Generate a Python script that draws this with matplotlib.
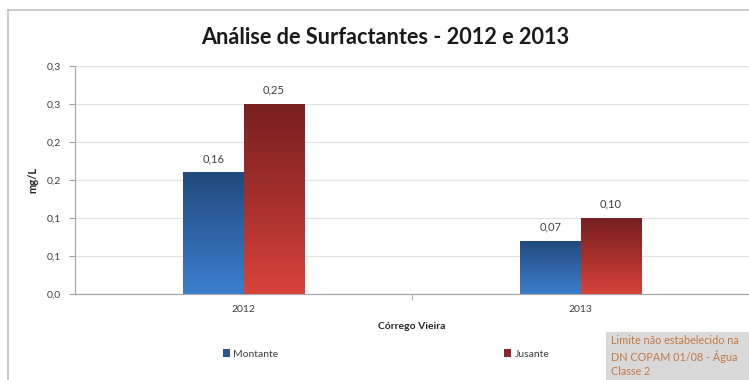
import numpy as np
import matplotlib
matplotlib.use("Agg")
import matplotlib.pyplot as plt
from matplotlib.colors import LinearSegmentedColormap
from matplotlib.lines import Line2D
from matplotlib.patches import Patch, Rectangle

plt.rcParams['font.family'] = ['Lato', 'DejaVu Sans']

# Data
years = ["2012", "2013"]
series_names = ["Montante", "Jusante"]
montante = [0.16, 0.07]
jusante = [0.25, 0.10]
value_labels_montante = ["0,16", "0,07"]
value_labels_jusante = ["0,25", "0,10"]
y_ticks = [0.0, 0.05, 0.10, 0.15, 0.20, 0.25, 0.30]
y_tick_labels = ["0,0", "0,1", "0,1", "0,2", "0,2", "0,3", "0,3"]

title = "Análise de Surfactantes - 2012 e 2013"
x_title = "Córrego Vieira"
y_title = "mg/L"
note = "Limite não estabelecido na\nDN COPAM 01/08 - Água\nClasse 2"

# Gradient colours (top -> bottom)
blue_grad = LinearSegmentedColormap.from_list("blue_grad", ["#214a7c", "#2f64a6", "#3c7fcb"])
red_grad = LinearSegmentedColormap.from_list("red_grad", ["#772020", "#a52f2c", "#d8433c"])

fig = plt.figure(figsize=(7.49, 3.80), dpi=100)
ax = fig.add_axes([75 / 749, 1 - 294 / 380, 1 - 75 / 749, (294 - 66) / 380])

x = np.arange(len(years))
w = 0.18
bars_m = ax.bar(x - w / 2, montante, width=w, color="#2f64a6", linewidth=0, zorder=2)
bars_j = ax.bar(x + w / 2, jusante, width=w, color="#a52f2c", linewidth=0, zorder=2)

grad = np.linspace(0, 1, 256).reshape(-1, 1)
for bars, cmap in ((bars_m, blue_grad), (bars_j, red_grad)):
    for b in bars:
        x0, y0 = b.get_x(), b.get_y()
        x1, y1 = x0 + b.get_width(), y0 + b.get_height()
        im = ax.imshow(grad, cmap=cmap, extent=[x0, x1, y0, y1], origin="upper",
                       aspect="auto", zorder=3)
        im.set_clip_path(b)

for bars, labels in ((bars_m, value_labels_montante), (bars_j, value_labels_jusante)):
    for b, lab in zip(bars, labels):
        ax.annotate(lab, (b.get_x() + b.get_width() / 2, b.get_height()),
                    xytext=(0, 6), textcoords="offset points", ha="center", va="bottom",
                    fontsize=8, color="#404040")

ax.set_xlim(-0.5, 1.5)
ax.set_ylim(0, 0.30)
ax.set_yticks(y_ticks)
ax.set_yticklabels(y_tick_labels, fontsize=7.5, color="#404040")
ax.set_xticks(x)
ax.set_xticklabels(years, fontsize=7.5, color="#404040")
ax.set_xticks([0.5], minor=True)
ax.tick_params(axis="x", which="major", length=0, pad=8)
ax.tick_params(axis="x", which="minor", length=4, color="#a0a0a0", direction="out")
ax.tick_params(axis="y", length=4, color="#a0a0a0", direction="out", pad=6)

ax.grid(axis="y", color="#e3e3e3", linewidth=0.9, zorder=0)
ax.set_axisbelow(True)
for side in ("top", "right"):
    ax.spines[side].set_visible(False)
for side in ("left", "bottom"):
    ax.spines[side].set_color("#a8a8a8")
    ax.spines[side].set_linewidth(0.9)

ax.set_xlabel(x_title, fontsize=7.5, fontweight="bold", color="#262626", labelpad=6)
ax.set_ylabel(y_title, fontsize=8, fontweight="bold", color="#262626", labelpad=6)

fig.text(385 / 749, 1 - 38 / 380, title, ha="center", va="center",
         fontsize=15.6, fontweight="bold", color="#1a1a1a")

# Outer chart frame
fig.add_artist(Line2D([8 / 749, 8 / 749], [0, 1 - 10 / 380], transform=fig.transFigure,
                      color="#c4c4c4", linewidth=1.2))
fig.add_artist(Line2D([8 / 749, 1], [1 - 10 / 380, 1 - 10 / 380], transform=fig.transFigure,
                      color="#c4c4c4", linewidth=1.2))

handles = [Patch(facecolor="#2a5690"), Patch(facecolor="#8c2727")]
fig.legend(handles, series_names, loc="center", bbox_to_anchor=(386 / 749, 1 - 354 / 380),
           ncol=2, frameon=False, fontsize=7.5, handlelength=0.7, handleheight=0.7,
           handletextpad=0.3, columnspacing=21.7, labelcolor="#404040")

# Note box at the lower right
fig.add_artist(Rectangle((606 / 749, 0), 1 - 606 / 749, (380 - 332) / 380,
                         transform=fig.transFigure, facecolor="#d9d9d9",
                         edgecolor="none", zorder=4))
fig.text(611 / 749, 1 - 356 / 380, note, ha="left", va="center", fontsize=7.8,
         color="#c07a45", linespacing=1.35, zorder=5)

fig.savefig("out.png", dpi=100)
